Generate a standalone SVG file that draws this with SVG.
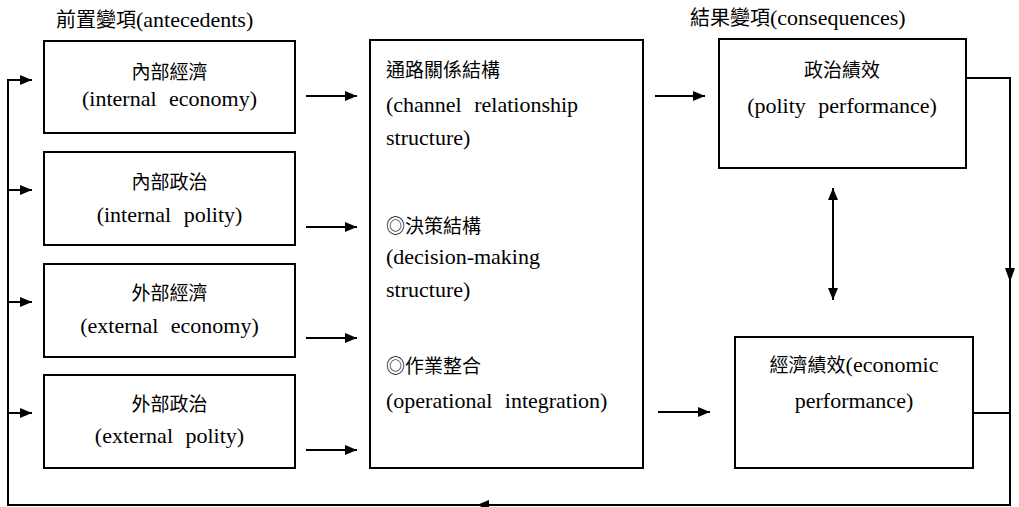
<svg xmlns="http://www.w3.org/2000/svg" width="1019" height="507" viewBox="0 0 1019 507">
<style>
.box{fill:#fff;stroke:#000;stroke-width:2}
.ln{fill:none;stroke:#000;stroke-width:2}
.hd{fill:#000}
.en{font-family:"Liberation Serif","Noto Sans CJK TC",serif;font-size:22px;word-spacing:7px;fill:#000}
.zh{font-family:"Noto Sans CJK TC","Noto Sans CJK SC",sans-serif;font-size:19px;fill:#000}
.c{text-anchor:middle}
</style>
<defs>
<marker id="ah" viewBox="0 0 12 10" markerWidth="12" markerHeight="10" refX="12" refY="5" orient="auto-start-reverse" markerUnits="userSpaceOnUse">
<path d="M0,0 L12,5 L0,10 z" fill="#000"/>
</marker>
</defs>
<rect width="1019" height="507" fill="#fff"/>
<text x="56" y="27"><tspan class="zh" style="font-size:20px">前置變項</tspan><tspan class="en" style="font-size:22px">(antecedents)</tspan></text>
<text x="690" y="25"><tspan class="zh" style="font-size:20px">結果變項</tspan><tspan class="en" style="font-size:22px">(consequences)</tspan></text>
<g id="connectors">
<path class="ln" d="M966,78 H1010 V505 H8 V80 H32" marker-end="url(#ah)"/>
<line class="ln" x1="8" y1="190" x2="32" y2="190" marker-end="url(#ah)"/>
<line class="ln" x1="8" y1="302" x2="32" y2="302" marker-end="url(#ah)"/>
<line class="ln" x1="8" y1="413" x2="32" y2="413" marker-end="url(#ah)"/>
<polygon points="1005,268 1015,268 1010,282" class="hd"/>
<polygon points="477,505 489,500 489,510" class="hd"/>
<line class="ln" x1="973" y1="413" x2="1010" y2="413"/>
<line class="ln" x1="306" y1="96" x2="357" y2="96" marker-end="url(#ah)"/>
<line class="ln" x1="306" y1="227" x2="357" y2="227" marker-end="url(#ah)"/>
<line class="ln" x1="306" y1="338" x2="357" y2="338" marker-end="url(#ah)"/>
<line class="ln" x1="306" y1="450" x2="357" y2="450" marker-end="url(#ah)"/>
<line class="ln" x1="655" y1="96" x2="705" y2="96" marker-end="url(#ah)"/>
<line class="ln" x1="658" y1="412" x2="710" y2="412" marker-end="url(#ah)"/>
<line class="ln" x1="833" y1="188" x2="833" y2="300" marker-start="url(#ah)" marker-end="url(#ah)"/>
</g>
<g id="internal-economy">
<rect class="box" x="44" y="41" width="251" height="92"/>
<text class="zh c" x="169.5" y="79">內部經濟</text>
<text class="en c" x="169.5" y="106">(internal economy)</text>
</g>
<g id="internal-polity">
<rect class="box" x="44" y="152" width="251" height="93"/>
<text class="zh c" x="169.5" y="189">內部政治</text>
<text class="en c" x="169.5" y="222">(internal polity)</text>
</g>
<g id="external-economy">
<rect class="box" x="44" y="264" width="251" height="93"/>
<text class="zh c" x="169.5" y="300">外部經濟</text>
<text class="en c" x="169.5" y="333">(external economy)</text>
</g>
<g id="external-polity">
<rect class="box" x="44" y="375" width="251" height="93"/>
<text class="zh c" x="169.5" y="411">外部政治</text>
<text class="en c" x="169.5" y="443">(external polity)</text>
</g>
<g id="channel-structure">
<rect class="box" x="370" y="40" width="273" height="428"/>
<text class="zh" x="386" y="77">通路關係結構</text>
<text class="en" x="386" y="112">(channel relationship</text>
<text class="en" x="386" y="145">structure)</text>
<text class="zh" x="386" y="233">◎決策結構</text>
<text class="en" x="386" y="264">(decision-making</text>
<text class="en" x="386" y="297">structure)</text>
<text class="zh" x="386" y="373">◎作業整合</text>
<text class="en" x="386" y="408">(operational integration)</text>
</g>
<g id="polity-performance">
<rect class="box" x="719" y="39" width="247" height="129"/>
<text class="zh c" x="842" y="77">政治績效</text>
<text class="en c" x="842" y="113">(polity performance)</text>
</g>
<g id="economic-performance">
<rect class="box" x="735" y="337" width="238" height="131"/>
<text x="854" y="372" class="c"><tspan class="zh">經濟績效</tspan><tspan class="en">(economic</tspan></text>
<text class="en c" x="854" y="408">performance)</text>
</g>
</svg>
